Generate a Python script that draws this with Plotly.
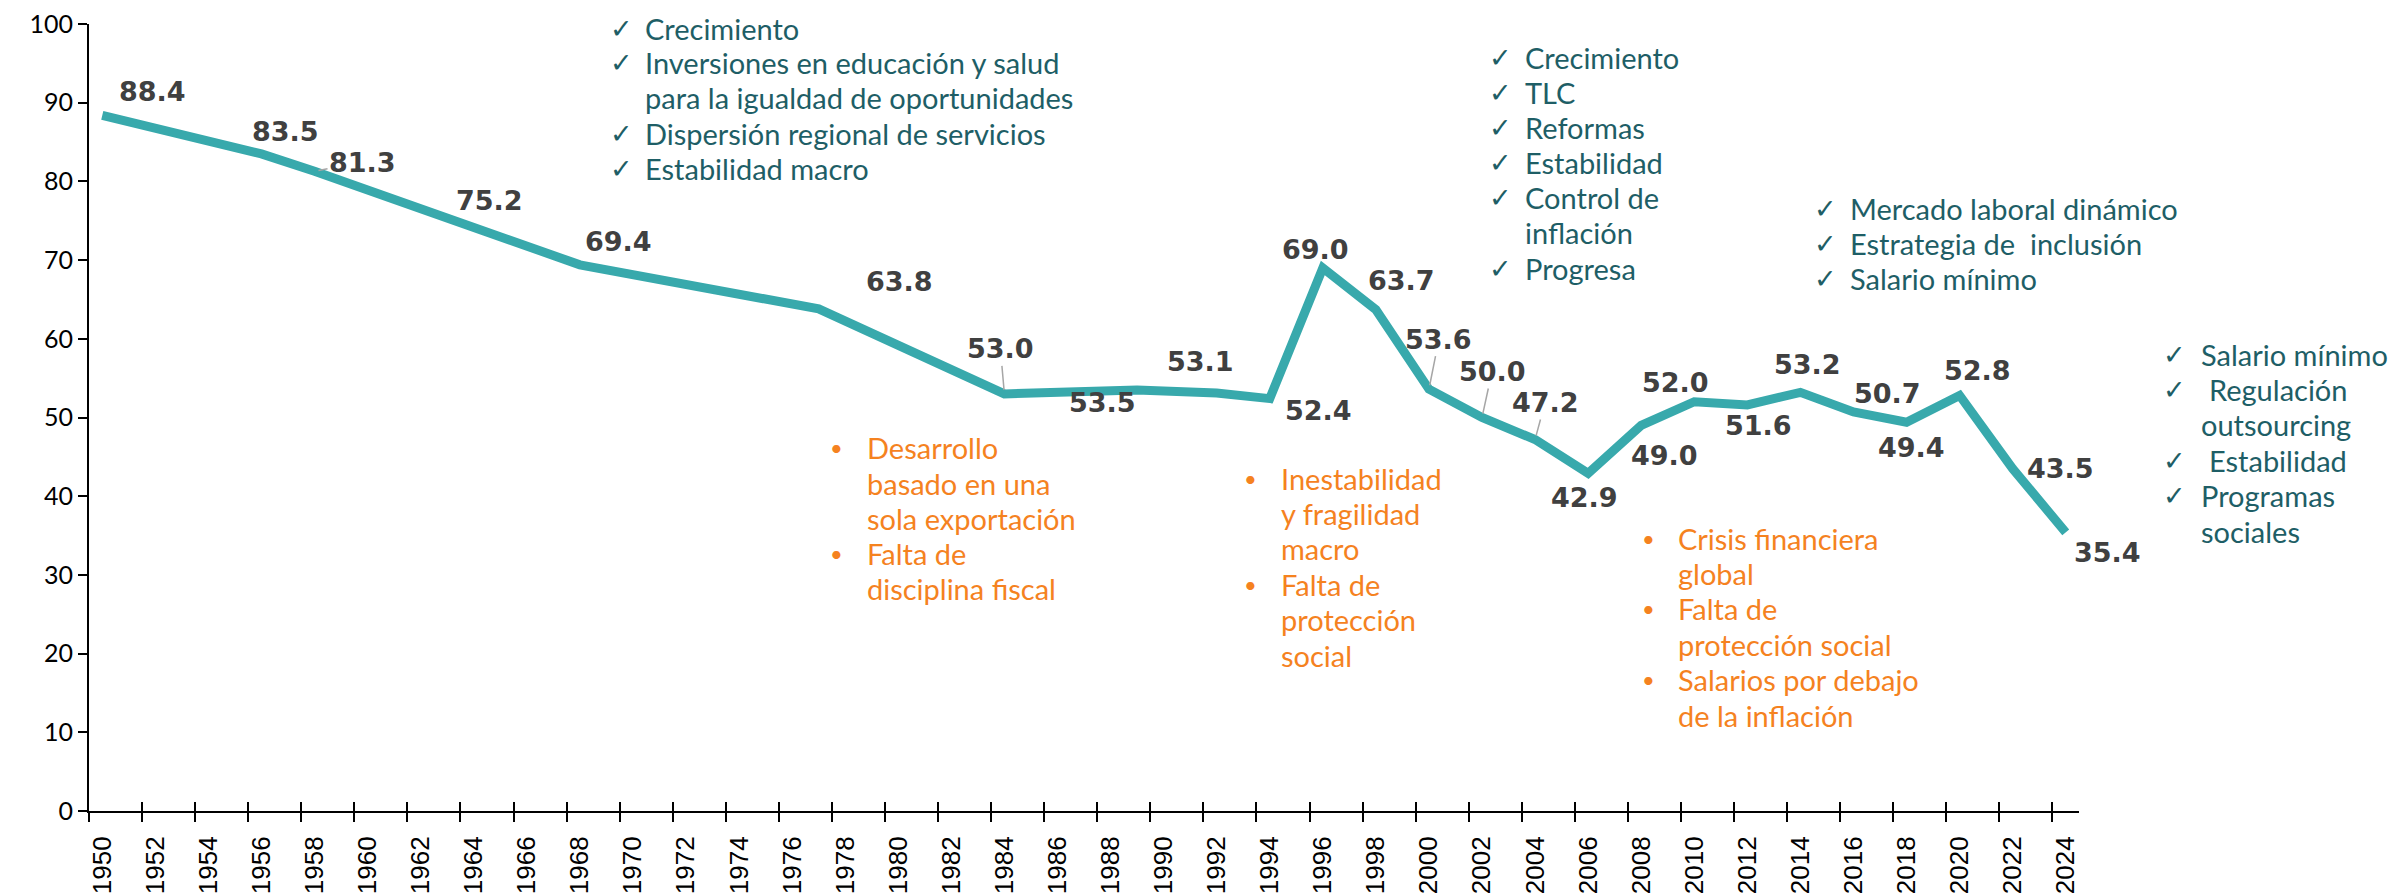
import plotly.graph_objects as go

# ---------------- data ----------------
years = [1950, 1956, 1958, 1963, 1968, 1977, 1984, 1989, 1992, 1994, 1996, 1998,
         2000, 2002, 2004, 2006, 2008, 2010, 2012, 2014, 2016, 2018, 2020, 2022, 2024]
values = [88.4, 83.5, 81.3, 75.2, 69.4, 63.8, 53.0, 53.5, 53.1, 52.4, 69.0, 63.7,
          53.6, 50.0, 47.2, 42.9, 49.0, 52.0, 51.6, 53.2, 50.7, 49.4, 52.8, 43.5, 35.4]
tick_years = list(range(1950, 2025, 2))
y_ticks = list(range(0, 101, 10))

block1 = [("✓", "Crecimiento"), ("✓", "Inversiones en educación y salud"),
          ("", "para la igualdad de oportunidades"), ("✓", "Dispersión regional de servicios"),
          ("✓", "Estabilidad macro")]
block2 = [("✓", "Crecimiento"), ("✓", "TLC"), ("✓", "Reformas"), ("✓", "Estabilidad"),
          ("✓", "Control de"), ("", "inflación"), ("✓", "Progresa")]
block3 = [("✓", "Mercado laboral dinámico"), ("✓", "Estrategia de  inclusión"),
          ("✓", "Salario mínimo")]
block4 = [("✓", "Salario mínimo"), ("✓", " Regulación"), ("", "outsourcing"),
          ("✓", " Estabilidad"), ("✓", "Programas"), ("", "sociales")]
blockA = [("•", "Desarrollo"), ("", "basado en una"), ("", "sola exportación"),
          ("•", "Falta de"), ("", "disciplina fiscal")]
blockB = [("•", "Inestabilidad"), ("", "y fragilidad"), ("", "macro"),
          ("•", "Falta de"), ("", "protección"), ("", "social")]
blockC = [("•", "Crisis financiera"), ("", "global"), ("•", "Falta de"),
          ("", "protección social"), ("•", "Salarios por debajo"), ("", "de la inflación")]

# ---------------- layout constants ----------------
W, H = 2389, 894
L, R, T, B = 89, 310, 24, 83
PW, PH = W - L - R, H - T - B

# label offsets in pixels (dx right, dy down) and whether a leader line is drawn
label_offsets = [(50, -24, 0), (24, -22, 0), (48, -9, 1), (42, -19, 0), (39, -23, 0),
                 (81, -27, 0), (-4, -45, 1), (-35, 13, 1), (-16, -32, 0), (49, 12, 0),
                 (-7, -18, 0), (26, -29, 0), (10, -50, 1), (10, -46, 1), (10, -37, 1),
                 (-4, 24, 0), (23, 30, 0), (-19, -19, 0), (11, 21, 0), (7, -28, 0),
                 (34, -18, 0), (5, 25, 0), (18, -25, 0), (48, 0, 0), (42, 20, 0)]

TEAL = "#38A9AC"
DARK = "#1E5E66"
ORANGE = "#F5821F"
LABEL = "#404040"

fig = go.Figure()
fig.add_trace(go.Scatter(x=years, y=values, mode="lines",
                         line=dict(color=TEAL, width=9), hoverinfo="skip",
                         showlegend=False))
# invisible trace so the overlay axis (for crossing tick marks) is drawn
fig.add_trace(go.Scatter(x=[years[0]], y=[values[0]], xaxis="x2", mode="markers",
                         marker=dict(opacity=0), hoverinfo="skip", showlegend=False))

annotations = []
for yr, v, (dx, dy, lead) in zip(years, values, label_offsets):
    base = dict(x=yr, y=v, xref="x", yref="y", text=f"<b>{v:.1f}</b>",
                font=dict(family="DejaVu Sans", size=27, color=LABEL))
    if lead:
        base.update(showarrow=True, ax=dx, ay=dy, arrowhead=0, arrowwidth=1.5,
                    arrowcolor="#A6A6A6", standoff=4)
    else:
        base.update(showarrow=False, xshift=dx, yshift=-dy)
    annotations.append(base)


def px2paper(xp, yp):
    return (xp - L) / PW, (H - B - yp) / PH


def add_block(lines, x_mark, x_text, y_first, spacing, color, mark_text_fmt, mark_font, mark_size):
    for i, (mark, txt) in enumerate(lines):
        yp = y_first + i * spacing
        xt = x_text + (8 if txt.startswith(" ") else 0)
        px_, py_ = px2paper(xt, yp)
        annotations.append(dict(x=px_, y=py_, xref="paper", yref="paper", text=txt.strip(),
                                showarrow=False, xanchor="left", yanchor="middle",
                                font=dict(family="Lato", size=29, color=color)))
        if mark:
            mx, my = px2paper(x_mark, yp)
            annotations.append(dict(x=mx, y=my, xref="paper", yref="paper",
                                    text=mark_text_fmt.format(mark),
                                    showarrow=False, xanchor="left", yanchor="middle",
                                    font=dict(family=mark_font, size=mark_size, color=color)))


CHK = "<b>{}</b>"
add_block(block1, 608, 643, 28, 35, DARK, CHK, "DejaVu Sans", 27)
add_block(block2, 1487, 1523, 57, 35.2, DARK, CHK, "DejaVu Sans", 27)
add_block(block3, 1812, 1848, 208, 35, DARK, CHK, "DejaVu Sans", 27)
add_block(block4, 2161, 2199, 354, 35.4, DARK, CHK, "DejaVu Sans", 27)
add_block(blockA, 828, 865, 448, 35, ORANGE, "{}", "Lato", 22)
add_block(blockB, 1242, 1279, 478, 35.4, ORANGE, "{}", "Lato", 22)
add_block(blockC, 1640, 1676, 538, 35.4, ORANGE, "{}", "Lato", 22)

boundaries = [y - 0.5 for y in tick_years]
xr = [years[0] - 0.5, years[-1] + 0.5]

fig.update_layout(
    width=W, height=H, autosize=False,
    margin=dict(l=L, r=R, t=T, b=B, pad=0),
    paper_bgcolor="white", plot_bgcolor="white",
    showlegend=False,
    annotations=annotations,
    xaxis=dict(range=xr, tickmode="array", tickvals=tick_years,
               ticktext=[str(t) for t in tick_years], tickangle=-90,
               ticks="outside", ticklen=9, tickcolor="rgba(0,0,0,0)",
               ticklabelstandoff=4, automargin=False,
               showline=True, linecolor="black", linewidth=2,
               showgrid=False, zeroline=False,
               tickfont=dict(family="Liberation Sans", size=26, color="black"),
               minor=dict(tickmode="array", tickvals=boundaries, ticks="outside",
                          ticklen=9, tickwidth=2, tickcolor="black", showgrid=False)),
    xaxis2=dict(range=xr, overlaying="x", anchor="y", side="bottom",
                tickmode="array", tickvals=boundaries, ticks="inside", ticklen=9,
                tickwidth=2, tickcolor="black", showticklabels=False, automargin=False,
                showline=False, showgrid=False, zeroline=False),
    yaxis=dict(range=[0, 100], tickmode="array", tickvals=y_ticks,
               ticks="outside", ticklen=9, tickwidth=2, tickcolor="black",
               showline=True, linecolor="black", linewidth=2, automargin=False,
               showgrid=False, zeroline=False,
               tickfont=dict(family="Lato", size=25, color="black")),
)

fig.write_html("out.html", include_plotlyjs=True, full_html=True,
               config=dict(displayModeBar=False))
